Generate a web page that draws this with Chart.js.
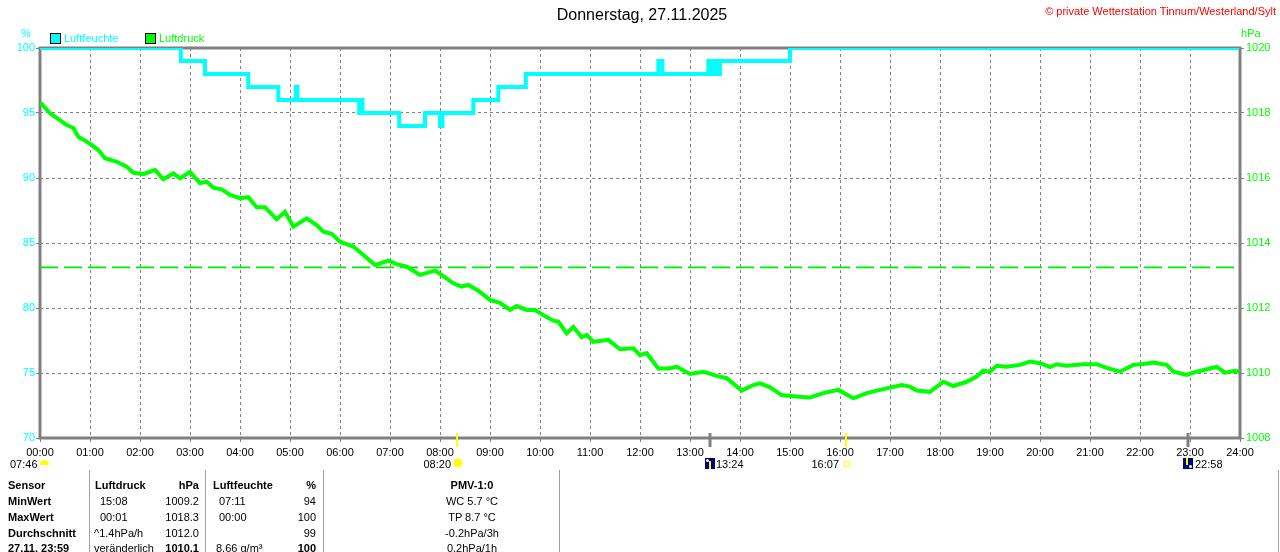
<!DOCTYPE html>
<html><head><meta charset="utf-8">
<script src="https://cdn.jsdelivr.net/npm/chart.js@4.4.1/dist/chart.umd.min.js"></script>
<style>
html,body{margin:0;padding:0;background:#fff;width:1280px;height:552px;overflow:hidden;font-family:"Liberation Sans",Arial,sans-serif;}
#wrap{position:absolute;left:0;top:0;width:1280px;height:552px;}
canvas{position:absolute;left:0;top:0;}
.t{position:absolute;white-space:nowrap;font-size:11px;line-height:13px;color:#000;}
.b{font-weight:bold;}
.ic{position:absolute;}
.sep{position:absolute;top:470px;height:82px;width:1px;background:#a0a0a0;}
</style></head><body>
<div id="wrap"><canvas id="c" width="1280" height="552"></canvas></div>
<script>
// ---------- data ----------
const titleText = "Donnerstag, 27.11.2025";
const copyrightText = "\u00A9 private Wetterstation Tinnum/Westerland/Sylt";
const seriesNames = ["Luftfeuchte", "Luftdruck"];

// humidity (%) : minute of day -> value (step changes)
const humTimes = [0,169,198,250,286,307,309,383,385,387,431,462,480,483,520,550,583,742,747,802,805,809,812,816,900,1439];
const humValues = [100,99,98,97,96,97,96,95,96,95,94,95,94,95,96,97,98,99,98,99,98,99,98,99,100,100];

// air pressure (hPa) : minute of day -> value
const presTimes = [0,2,12,24,32,40,46,54,62,70,78,92,104,112,124,138,148,160,168,180,192,200,208,218,228,240,250,260,270,284,294,304,320,332,340,350,360,376,388,402,418,428,440,456,474,486,496,506,514,526,540,552,564,572,584,594,604,616,622,632,640,650,656,664,682,696,712,720,728,742,754,764,780,796,812,824,842,856,864,876,890,910,924,940,958,976,992,1008,1034,1044,1052,1068,1084,1096,1112,1124,1132,1140,1148,1160,1176,1188,1200,1212,1220,1232,1252,1268,1280,1296,1312,1324,1336,1352,1360,1376,1388,1404,1412,1422,1434,1439];
const presValues = [1018.31,1018.28,1017.99,1017.78,1017.63,1017.54,1017.27,1017.15,1017.02,1016.86,1016.61,1016.50,1016.35,1016.16,1016.12,1016.25,1015.96,1016.14,1015.99,1016.19,1015.84,1015.89,1015.70,1015.65,1015.48,1015.38,1015.41,1015.10,1015.10,1014.73,1014.96,1014.50,1014.76,1014.55,1014.35,1014.28,1014.04,1013.89,1013.63,1013.32,1013.46,1013.35,1013.27,1013.02,1013.15,1012.94,1012.76,1012.66,1012.71,1012.53,1012.25,1012.16,1011.94,1012.06,1011.94,1011.94,1011.78,1011.61,1011.58,1011.22,1011.42,1011.10,1011.17,1010.96,1011.02,1010.73,1010.76,1010.55,1010.61,1010.14,1010.14,1010.19,1009.97,1010.04,1009.91,1009.84,1009.46,1009.63,1009.68,1009.56,1009.32,1009.27,1009.25,1009.38,1009.48,1009.22,1009.38,1009.48,1009.63,1009.58,1009.46,1009.42,1009.73,1009.60,1009.73,1009.89,1010.07,1010.04,1010.22,1010.19,1010.25,1010.35,1010.30,1010.18,1010.27,1010.22,1010.27,1010.27,1010.16,1010.04,1010.25,1010.28,1010.32,1010.25,1010.04,1009.94,1010.04,1010.14,1010.19,1010.01,1010.07,1010.04,1010.10];

const standardPressure = 1013.25;

// axis ranges / ticks
const humAxis = {min:70, max:100, step:5};
const presAxis = {min:1008, max:1020, step:2};
const timeAxis = {min:0, max:1440, step:60};

// sun / moon events (minute of day)
const sunrise = 500, sunset = 967, moonrise = 804, moonset = 1378;
const eventLabels = {dawn:"07:46", sunrise:"08:20", moonrise:"13:24", sunset:"16:07", moonset:"22:58"};

// table
const tableRows = [
  ["Sensor","Luftdruck","hPa","Luftfeuchte","%","PMV-1:0"],
  ["MinWert","15:08","1009.2","07:11","94","WC 5.7 \u00B0C"],
  ["MaxWert","00:01","1018.3","00:00","100","TP 8.7 \u00B0C"],
  ["Durchschnitt","^1.4hPa/h","1012.0","","99","-0.2hPa/3h"],
  ["27.11. 23:59","ver\u00E4nderlich","1010.1","8.66 g/m\u00B3","100","0.2hPa/1h"]
];

// ---------- colours ----------
const CYAN = "#00ffff", GREEN = "#00ff00", GRID = "#808080";
const FONT = '"Liberation Sans", Arial, sans-serif';

// ---------- chart ----------
const humData = humTimes.map((t,i)=>({x:t,y:humValues[i]}));
const presData = presTimes.map((t,i)=>({x:t,y:presValues[i]}));
const stdData = [{x:timeAxis.min,y:standardPressure},{x:timeAxis.max,y:standardPressure}];

const framePlugin = {
  id:'frame',
  beforeDatasetsDraw(chart){
    const {ctx, chartArea:a} = chart;
    ctx.save();
    ctx.strokeStyle = GRID; ctx.lineWidth = 3;
    ctx.strokeRect(a.left, a.top, a.right-a.left, a.bottom-a.top);
    ctx.restore();
  },
  afterDraw(chart){
    const {ctx, chartArea:a, scales} = chart;
    const xs = scales.x;
    const marks = [[sunrise,"#ffff00",2],[sunset,"#ffff00",2],[moonrise,GRID,3],[moonset,GRID,3]];
    ctx.save();
    marks.forEach(([t,col,w])=>{
      const x = Math.round(xs.getPixelForValue(t));
      ctx.strokeStyle = col; ctx.lineWidth = w;
      ctx.beginPath(); ctx.moveTo(x, a.bottom-5); ctx.lineTo(x, a.bottom+9); ctx.stroke();
    });
    ctx.restore();
  }
};

new Chart(document.getElementById('c'), {
  type:'line',
  data:{datasets:[
    {label:seriesNames[1], data:presData, yAxisID:'yP', borderColor:GREEN, borderWidth:4, pointRadius:0, tension:0, order:2},
    {label:'Normaldruck', data:stdData, yAxisID:'yP', borderColor:"#00e800", borderWidth:1.6, borderDash:[18,6], pointRadius:0, order:3},
    {label:seriesNames[0], data:humData, yAxisID:'yH', borderColor:CYAN, borderWidth:4, pointRadius:0, stepped:true, order:1}
  ]},
  options:{
    responsive:false, animation:false, events:[],
    layout:{padding:{top:48,left:0,right:0,bottom:0}},
    plugins:{legend:{display:false}, title:{display:false}, tooltip:{enabled:false}},
    scales:{
      x:{type:'linear', min:timeAxis.min, max:timeAxis.max,
         afterFit(s){s.height = 114;},
         ticks:{stepSize:timeAxis.step, autoSkip:false, maxRotation:0, color:'#000', padding:4,
                font:{family:FONT, size:11},
                callback:v=>String(Math.round(v/60)).padStart(2,'0')+':00'},
         grid:{color:GRID, lineWidth:1, tickLength:4, tickColor:GRID},
         border:{display:false, dash:[3,3]}},
      yH:{type:'linear', position:'left', min:humAxis.min, max:humAxis.max,
         afterFit(s){s.width = 40;},
         ticks:{stepSize:humAxis.step, color:CYAN, padding:1,
                font:{family:FONT, size:11}, callback:v=>String(v)},
         grid:{color:GRID, lineWidth:1, tickLength:4, tickColor:GRID},
         border:{display:false, dash:[3,3]}},
      yP:{type:'linear', position:'right', min:presAxis.min, max:presAxis.max,
         afterFit(s){s.width = 40;},
         ticks:{stepSize:presAxis.step, color:GREEN, padding:2,
                font:{family:FONT, size:11}, callback:v=>String(v)},
         grid:{drawOnChartArea:false, color:GRID, tickLength:4, tickColor:GRID},
         border:{display:false}}
    }
  },
  plugins:[framePlugin]
});

// ---------- text overlays ----------
const wrap = document.getElementById('wrap');
function txt(x, y, s, o={}){
  const d = document.createElement('div');
  d.className = 't' + (o.bold ? ' b' : '');
  d.textContent = s;
  if (o.size){ d.style.fontSize = o.size+'px'; d.style.lineHeight = (o.size+4)+'px'; }
  const lh = o.size ? o.size+4 : 13;
  d.style.top = (y - lh/2) + 'px';
  if (o.color) d.style.color = o.color;
  if (o.align === 'right'){ d.style.right = (1280 - x) + 'px'; }
  else if (o.align === 'center'){ d.style.left = x + 'px'; d.style.transform = 'translateX(-50%)'; }
  else d.style.left = x + 'px';
  wrap.appendChild(d);
  return d;
}
function box(x, y, w, h, css){
  const d = document.createElement('div');
  d.className = 'ic';
  d.style.left = x+'px'; d.style.top = y+'px'; d.style.width = w+'px'; d.style.height = h+'px';
  Object.assign(d.style, css);
  wrap.appendChild(d);
  return d;
}

txt(642, 15, titleText, {align:'center', size:16});
txt(1276, 11, copyrightText, {align:'right', color:'#ff0000'});
txt(21, 33, "%", {color:CYAN});
txt(1241, 33, "hPa", {color:GREEN});
// legend
box(50, 33, 9, 9, {background:CYAN, border:'1px solid #000'});
txt(64, 38, seriesNames[0], {color:CYAN});
box(145, 33, 9, 9, {background:GREEN, border:'1px solid #000'});
txt(159, 38, seriesNames[1], {color:GREEN});

// event labels / icons
txt(10, 464, eventLabels.dawn);
box(40, 460, 9, 5, {background:'#ffff00', borderRadius:'5px 5px 0 0'});
txt(451, 464, eventLabels.sunrise, {align:'right'});
box(454, 459, 8, 8, {background:'#ffff00', borderRadius:'50%', boxShadow:'0 0 2px 1px #ffff99'});
box(705, 458, 10, 11, {background:'#000080'});
box(709, 461, 2, 8, {background:'#ffff00'});
box(706, 459, 3, 3, {background:'#ffffff', borderRadius:'50%'});
txt(716, 464, eventLabels.moonrise);
txt(839, 464, eventLabels.sunset, {align:'right'});
box(844, 461, 4, 4, {border:'1px solid #ffff00'});
box(1183, 458, 10, 11, {background:'#000080'});
box(1186, 458, 2, 7, {background:'#ffff00'});
box(1189, 465, 3, 3, {background:'#ffffff', borderRadius:'50%'});
txt(1195, 464, eventLabels.moonset);

// table separators
[89, 205, 323, 559, 1278].forEach(x=>{ const s=document.createElement('div'); s.className='sep'; s.style.left=x+'px'; wrap.appendChild(s); });

// table text
const rowY = [485, 501, 517, 533, 548];
tableRows.forEach((r,i)=>{
  const y = rowY[i];
  const hdr = i===0;
  txt(8, y, r[0], {bold:true});
  txt(hdr?95:(i<3?100:94), y, r[1], {bold:hdr});
  txt(199, y, r[2], {align:'right', bold:hdr||i===4});
  txt(hdr?213:(i<3?219:216), y, r[3], {bold:hdr});
  txt(316, y, r[4], {align:'right', bold:hdr||i===4});
  txt(472, y, r[5], {align:'center', bold:hdr});
});
</script>
</body></html>
